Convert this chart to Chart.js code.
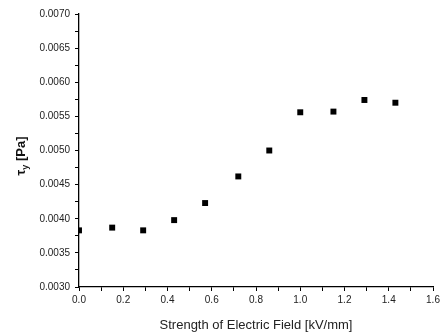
<!DOCTYPE html>
<html>
<head>
<meta charset="utf-8">
<script src="https://cdn.jsdelivr.net/npm/chart.js@4"></script>
<style>
 html, body { margin: 0; padding: 0; background: #fff; }
 #wrap { width: 443px; height: 333px; position: relative; }
</style>
</head>
<body>
<div id="wrap"><canvas id="c"></canvas></div>
<script>
const fieldKV = [0.0, 0.15, 0.29, 0.43, 0.57, 0.72, 0.86, 1.0, 1.15, 1.29, 1.43];
const yieldStress = [0.00383, 0.00387, 0.00383, 0.00398, 0.00423, 0.00462, 0.00500, 0.00556, 0.00557, 0.00574, 0.00570];
const xTitle = 'Strength of Electric Field [kV/mm]';

const font = 'Arial, "Liberation Sans", sans-serif';

// y title: tau with subscript y, drawn rotated
const yTitle = {
 id: 'yTitle',
 afterDraw(chart) {
 const ctx = chart.ctx;
 ctx.save();
 ctx.translate(21, 156);
 ctx.rotate(-Math.PI / 2);
 ctx.fillStyle = '#111';
 ctx.textBaseline = 'middle';
 ctx.font = 'bold 13px ' + font;
 const w1 = ctx.measureText('τ').width;
 ctx.font = 'bold 9px ' + font;
 const w2 = ctx.measureText('y').width;
 ctx.font = 'bold 13px ' + font;
 const w3 = ctx.measureText(' [Pa]').width;
 let x = -(w1 + w2 + w3) / 2;
 ctx.fillText('τ', x, 0);
 x += w1;
 ctx.font = 'bold 9px ' + font;
 ctx.fillText('y', x, 5);
 x += w2;
 ctx.font = 'bold 13px ' + font;
 ctx.fillText(' [Pa]', x, 0);
 ctx.restore();
 }
};

new Chart(document.getElementById('c'), {
 type: 'scatter',
 data: {
 datasets: [{
 data: fieldKV.map((x, i) => ({ x, y: yieldStress[i] })),
 pointStyle: 'rect',
 pointRadius: 4.2,
 pointBackgroundColor: '#000',
 pointBorderWidth: 0,
 showLine: false,
 }],
 },
 options: {
 responsive: true,
 maintainAspectRatio: false,
 animation: false,
 layout: { padding: { left: 0, right: 10, top: 14, bottom: 0 } },
 plugins: { legend: { display: false }, tooltip: { enabled: false } },
 scales: {
 x: {
 type: 'linear',
 min: 0, max: 1.6,
 afterFit: s => { s.height = 46; },
 border: { display: true, color: '#000', width: 1.3 },
 grid: { drawOnChartArea: false, drawTicks: true, tickLength: 4, color: '#000' },
 ticks: {
 stepSize: 0.1, autoSkip: false, maxRotation: 0, padding: 3,
 color: '#222', font: { family: font, size: 10 },
 callback: v => Math.round(v * 10) % 2 === 0 ? v.toFixed(1) : '',
 },
 title: {
 display: true, text: xTitle, color: '#222',
 font: { family: font, size: 13 }, padding: { top: 2, bottom: 0 },
 },
 },
 y: {
 type: 'linear',
 min: 0.003, max: 0.007,
 afterFit: s => { s.width = 79; },
 border: { display: true, color: '#000', width: 1.3 },
 grid: { drawOnChartArea: false, drawTicks: true, tickLength: 4, color: '#000' },
 ticks: {
 stepSize: 0.00025, autoSkip: false, padding: 5,
 color: '#222', font: { family: font, size: 10 },
 callback: v => Math.round(v / 0.00025) % 2 === 0 ? v.toFixed(4) : '',
 },
 },
 },
 },
 plugins: [yTitle],
});
</script>
</body>
</html>
